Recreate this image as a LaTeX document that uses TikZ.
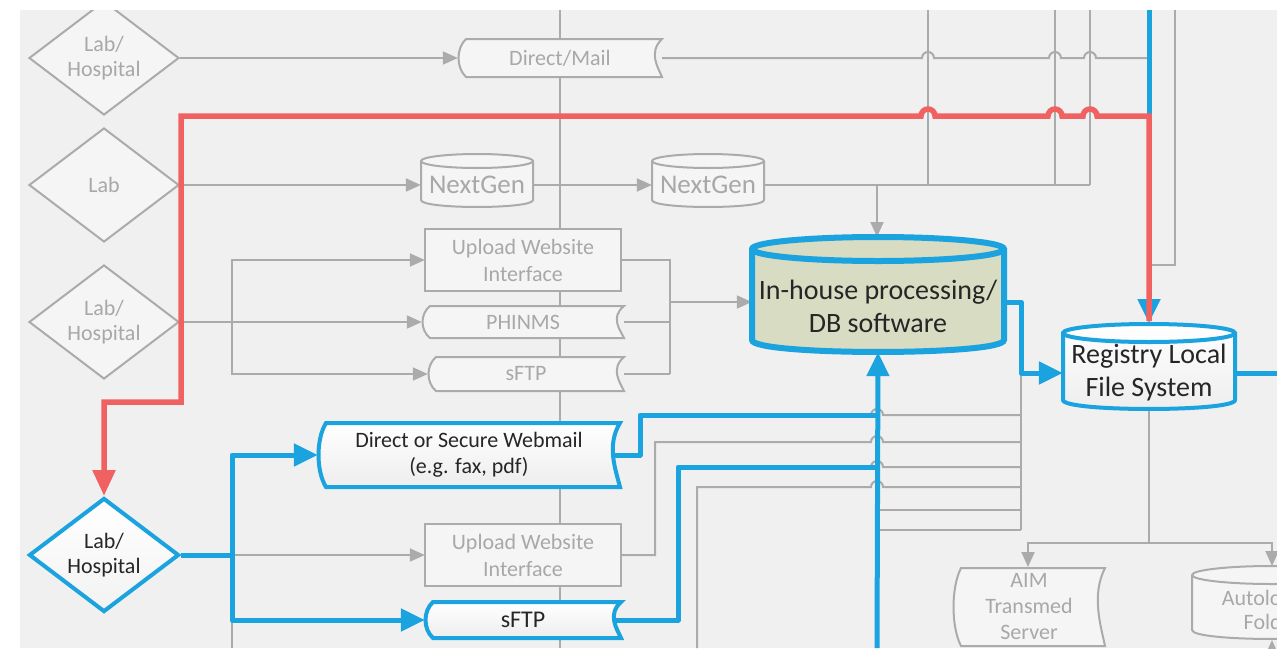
\documentclass[tikz,border=0pt]{standalone}
\usepackage{fontspec}
\setmainfont{Carlito}
\usetikzlibrary{shapes.geometric,arrows.meta}
\definecolor{bgc}{HTML}{F0F0F0}
\definecolor{gline}{HTML}{ABABAB}
\definecolor{gtext}{HTML}{A8A8A8}
\definecolor{gfill}{HTML}{F5F5F5}
\definecolor{bluec}{HTML}{1AA3DF}
\definecolor{redc}{HTML}{F06262}
\definecolor{dbfill}{HTML}{D7DCC2}
\definecolor{dtext}{HTML}{262626}
\pgfdeclarelayer{L0}\pgfdeclarelayer{L1}\pgfdeclarelayer{L2}\pgfdeclarelayer{L3}\pgfdeclarelayer{L5}
\pgfsetlayers{L0,L1,L2,L3,main,L5}
% tape-like shape: x1 y1 x2 y2 style
\newcommand\tapeshape[5]{\path[#5] ({#1+8},#2) -- (#3,#2) .. controls ({#3-14},{#2+0.35*(#4-#2)}) and ({#3-4},{#2+0.75*(#4-#2)}) .. (#3,#4) -- ({#1+8},#4) .. controls ({#1-2},{#4-0.25*(#4-#2)}) and ({#1-2},{#2+0.25*(#4-#2)}) .. ({#1+8},#2) -- cycle;}
% cylinder: x1 x2 ytopcentre ry ybottom fillstyle drawstyle
\newcommand\cylshape[7]{\path[#6] (#1,#3) -- (#1,#5) .. controls (#1,{#5+1.33*#4}) and (#2,{#5+1.33*#4}) .. (#2,#5) -- (#2,#3) arc[start angle=0,end angle=-180,x radius={(#2-#1)/2},y radius=#4] -- cycle;
\path[#7] (#1,#3) arc[start angle=180,end angle=0,x radius={(#2-#1)/2},y radius=#4];}
\begin{document}
\begin{tikzpicture}[x=1pt,y=-1pt,
 gl/.style={draw=gline, line width=2pt},
 bl/.style={draw=bluec, line width=5pt, line join=round},
 rl/.style={draw=redc, line width=5.5pt},
 gtip/.style={-{Triangle[length=15pt,width=13pt]}},
 btip/.style={-{Triangle[length=24pt,width=22pt]}},
 gshape/.style={draw=gline, line width=2pt, fill=gfill},
 gdiam/.style={diamond, draw=gline, line width=2pt, fill=gfill, minimum width=150pt, minimum height=114pt, inner sep=0pt},
 bshape/.style={draw=bluec, line width=4pt, top color=white, bottom color=black!7},
 gtxt/.style={text=gtext, font=\fontsize{22}{25}\selectfont, align=center, inner sep=0pt},
 dtxt/.style={text=dtext, font=\fontsize{22}{25}\selectfont, align=center, inner sep=0pt}
]
\useasboundingbox (0,0) rectangle (1287,648);
\begin{pgfonlayer}{L0}
\fill[white] (0,0) rectangle (1287,648);
\fill[bgc] (20,10) rectangle (1277,648);
\end{pgfonlayer}
\begin{pgfonlayer}{L5}
\fill[white] (0,0) rectangle (1287,10);
\fill[white] (0,0) rectangle (20,648);
\fill[white] (1277,0) rectangle (1287,648);
\end{pgfonlayer}

% ---------- grey shapes ----------
\begin{pgfonlayer}{L2}
\node[gdiam] (d1) at (104,58) {};
\node[gtxt] (d1t) at (d1) {Lab/\\Hospital};
\node[gdiam] (d2) at (104,185) {};
\node[gtxt] (d2t) at (d2) {Lab};
\node[gdiam] (d3) at (104,322) {};
\node[gtxt] (d3t) at (d3) {Lab/\\Hospital};

\tapeshape{458}{39}{662}{77}{gshape}
\node[gtxt, minimum width=204pt, minimum height=38pt] (dm) at (560,58) {Direct/Mail};

\cylshape{421}{533}{161}{7}{200}{gshape}{gl}
\node[gtxt, font=\fontsize{27}{30}\selectfont, minimum width=112pt, minimum height=46pt] (ng1) at (477,185) {NextGen};
\cylshape{652}{764}{161}{7}{200}{gshape}{gl}
\node[gtxt, font=\fontsize{27}{30}\selectfont, minimum width=112pt, minimum height=46pt] (ng2) at (708,185) {NextGen};

\draw[gshape] (425,229) rectangle (621,291);
\node[gtxt, font=\fontsize{22}{27}\selectfont, minimum width=196pt, minimum height=62pt] (up1) at (523,260) {Upload Website\\Interface};
\tapeshape{422}{306}{624}{338}{gshape}
\node[gtxt, minimum width=202pt, minimum height=32pt] (ph) at (523,322) {PHINMS};
\tapeshape{428}{357}{624}{391}{gshape}
\node[gtxt, minimum width=196pt, minimum height=34pt] (sg) at (526,374) {sFTP};

\draw[gshape] (425,524) rectangle (621,586);
\node[gtxt, font=\fontsize{22}{27}\selectfont, minimum width=196pt, minimum height=62pt] (up2) at (523,555) {Upload Website\\Interface};

\tapeshape{953}{568}{1105}{646}{gshape}
\node[gtxt, font=\fontsize{22}{26}\selectfont, minimum width=152pt, minimum height=78pt] (aim) at (1029,607) {AIM\\Transmed\\Server};
\cylshape{1192}{1352}{575}{9}{630}{gshape}{gl}
\node[gtxt, font=\fontsize{22}{24}\selectfont, minimum width=160pt, minimum height=58pt] (al) at (1272,610) {Autoloader\\Folder};
\end{pgfonlayer}

% ---------- blue shapes ----------
\cylshape{752}{1004}{249}{12}{340}{draw=bluec,line width=6pt,fill=dbfill}{draw=bluec,line width=6pt}
\node[minimum width=252pt, minimum height=100pt, inner sep=0pt] (db) at (878,302) {};
\node[dtxt, font=\fontsize{28}{33}\selectfont] (dbt) at (878,306) {In-house processing/\\DB software};

\cylshape{1063}{1235}{333}{9}{400}{bshape}{draw=bluec,line width=4pt}
\node[dtxt, font=\fontsize{28}{33}\selectfont, minimum width=172pt, minimum height=60pt] (reg) at (1149,373) {Registry Local\\File System};

\tapeshape{318}{423}{620}{487}{bshape}
\node[dtxt, font=\fontsize{22}{26}\selectfont, minimum width=302pt, minimum height=64pt] (wm) at (469,455) {Direct or Secure Webmail\\(e.g. fax, pdf)};
\tapeshape{425}{602}{621}{638}{bshape}
\node[dtxt, font=\fontsize{24}{26}\selectfont, minimum width=196pt, minimum height=36pt] (sb) at (523,620) {sFTP};

\node[diamond, draw=bluec, line width=4pt, top color=white, bottom color=black!5, minimum width=150pt, minimum height=114pt, inner sep=0pt] (d4) at (104,555) {};
\node[dtxt, font=\fontsize{22}{25}\selectfont] (d4t) at (d4) {Lab/\\Hospital};

% ---------- grey connectors ----------
\begin{pgfonlayer}{L1}
\coordinate (topA) at (928,0);
\coordinate (topB) at (1055,0);
\coordinate (topC) at (1090,0);
\coordinate (topD) at (1175,0);
\draw[gl] (560,0) -- (560,648);
\draw[gl,gtip] (d1.east) -- (dm.west);
\draw[gl] (dm.east) -- (922,58) arc[start angle=180,end angle=360,radius=6] -- (1049,58) arc[start angle=180,end angle=360,radius=6] -- (1084,58) arc[start angle=180,end angle=360,radius=6] -- (1149,58);
\draw[gl] (topA) -- (928,185);
\draw[gl] (topB) -- (1055,185);
\draw[gl] (topC) -- (1090,185);
\draw[gl,gtip] (d2.east) -- (ng1.west);
\draw[gl,gtip] (ng1.east) -- (ng2.west);
\draw[gl] (ng2.east) -- (1090,185);
\draw[gl,gtip] (877,185) -- (877,237);
\draw[gl] (topD) |- (1149,265);
\draw[gl,gtip] (d3.east) -- (ph.west);
\draw[gl,gtip] (232,322) |- (up1.west);
\draw[gl,gtip] (232,322) |- (sg.west);
\draw[gl] (up1.east) -| (670,374);
\draw[gl] (ph.east) -- (670,322);
\draw[gl] (sg.east) -- (670,374);
\draw[gl,gtip] (670,302) -- (db.west);
\draw[gl,gtip] (232,555) -- (up2.west);
\draw[gl] (232,620) -- (232,648);
\draw[gl] (up2.east) -| (655,442) -- (871,442) arc[start angle=180,end angle=360,radius=6] -- (1021,442);
\draw[gl] (697,648) |- (871,487) arc[start angle=180,end angle=360,radius=6] -- (1021,487);
\draw[gl] (640,415) -- (871,415) arc[start angle=180,end angle=360,radius=6] -- (1021,415);
\draw[gl] (678,467) -- (871,467) arc[start angle=180,end angle=360,radius=6] -- (1021,467);
\draw[gl] (877,510) -- (1021,510);
\draw[gl] (877,530) -- (1021,530);
\draw[gl] (1021,373) -- (1021,530);
\draw[gl] (1149,409) -- (1149,543);
\draw[gl,gtip] (1149,543) -| (1028,567);
\draw[gl,gtip] (1149,543) -| (1272,566);
\draw[gl,gtip] (1272,665) -- (1272,640);
\end{pgfonlayer}

% ---------- red and blue connectors ----------
\begin{pgfonlayer}{L3}
\coordinate (topE) at (1149,0);
\draw[bl,btip] (topE) -- (1149,323);
\draw[rl,-{Triangle[length=26pt,width=22pt]}] (1149,321) -- (1149,116) -- (1097,116) arc[start angle=0,end angle=-180,radius=7] -- (1062,116) arc[start angle=0,end angle=-180,radius=7] -- (935,116) arc[start angle=0,end angle=-180,radius=7] -- (181,116) -- (181,402) -- (104,402) -- (d4.north);
\draw[bl] (d4.east) -- (232,555);
\draw[bl,btip] (232,555) |- (wm.west);
\draw[bl,btip] (232,555) |- (sb.west);
\draw[bl] (wm.center) -| (640,415) -- (877,415);
\draw[bl] (sb.center) -| (678,467) -- (877,467);
\draw[bl,btip] (877,648) -- (db.south);
\draw[bl,btip] (db.center) -| (1021,373) -- (reg.west);
\draw[bl] (reg.center) -- (1290,373);
\end{pgfonlayer}
\end{tikzpicture}
\end{document}
